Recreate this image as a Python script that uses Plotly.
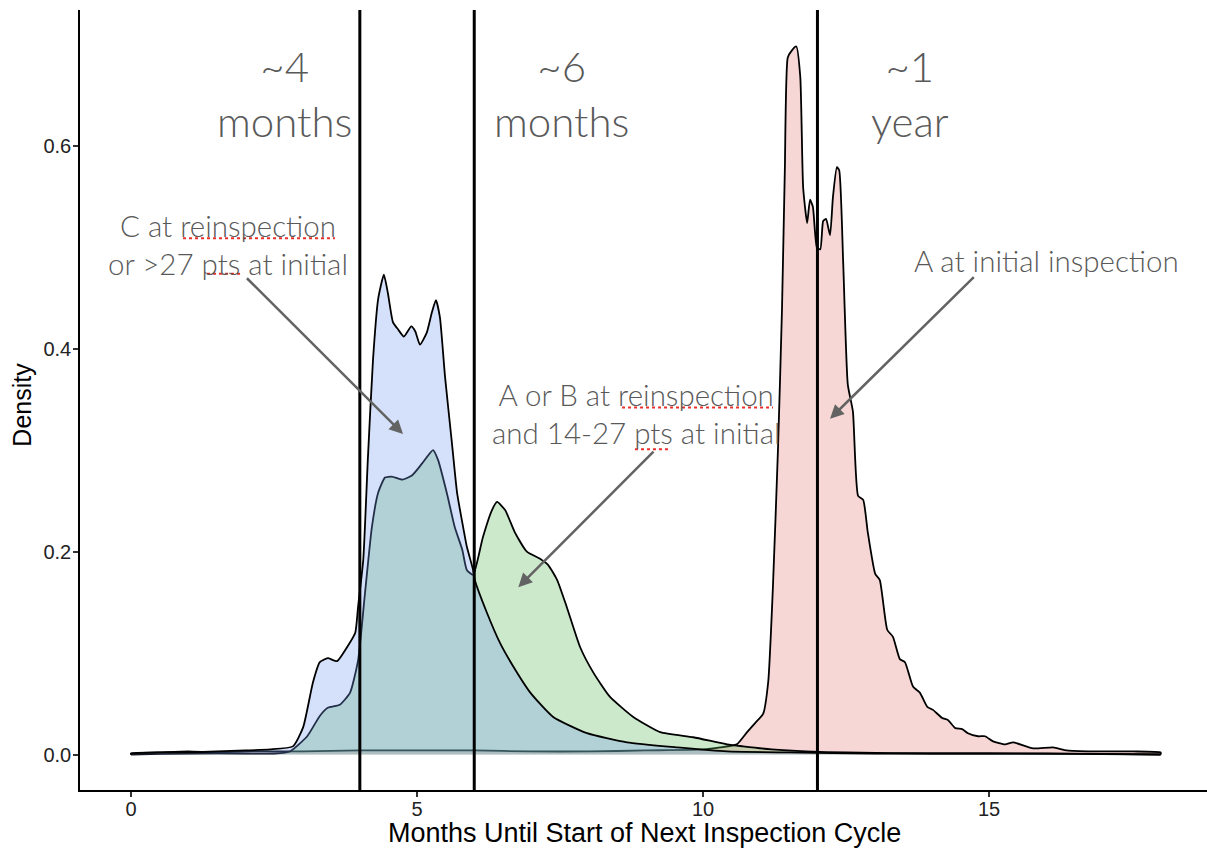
import plotly.graph_objects as go

# Density of months until the next inspection cycle, by grade group
months_a_initial = [0, 0.5, 1, 1.5, 2, 3, 4, 5, 6, 7, 8, 9, 10, 10.3, 10.59, 10.77, 10.91, 11.05,
                    11.14, 11.22, 11.31, 11.38, 11.43, 11.48, 11.55, 11.63, 11.70, 11.75, 11.82,
                    11.87, 11.92, 11.99, 12.05, 12.10, 12.15, 12.22, 12.27, 12.34, 12.38, 12.45,
                    12.53, 12.62, 12.71, 12.80, 12.88, 13.01, 13.09, 13.22, 13.32, 13.44, 13.53,
                    13.67, 13.79, 13.92, 14.02, 14.18, 14.28, 14.41, 14.53, 14.63, 14.81, 14.93,
                    15.07, 15.28, 15.42, 15.77, 16.12, 16.36, 16.82, 17.52, 18.0]
density_a_initial = [0.001, 0.002, 0.003, 0.002, 0.003, 0.003, 0.004, 0.004, 0.004, 0.003, 0.003,
                     0.004, 0.005, 0.007, 0.010, 0.022, 0.031, 0.040, 0.072, 0.163, 0.301, 0.439,
                     0.577, 0.687, 0.694, 0.698, 0.668, 0.559, 0.524, 0.547, 0.540, 0.500, 0.498,
                     0.526, 0.528, 0.512, 0.549, 0.579, 0.576, 0.485, 0.365, 0.338, 0.255, 0.251,
                     0.219, 0.178, 0.172, 0.123, 0.116, 0.094, 0.091, 0.067, 0.061, 0.047, 0.044,
                     0.036, 0.034, 0.026, 0.025, 0.021, 0.018, 0.018, 0.013, 0.010, 0.012, 0.006,
                     0.007, 0.004, 0.003, 0.003, 0.002]

months_ab_reinsp = [0, 1, 2, 2.5, 2.78, 3.08, 3.30, 3.44, 3.65, 3.83, 3.97, 4.09, 4.21, 4.32, 4.44,
                    4.56, 4.74, 4.91, 5.09, 5.28, 5.37, 5.52, 5.66, 5.79, 5.87, 5.98, 6.15, 6.31,
                    6.40, 6.54, 6.71, 6.92, 7.15, 7.29, 7.45, 7.62, 7.85, 8.08, 8.37, 8.78, 9.25,
                    9.83, 10.42, 10.70, 11.2, 11.8, 12.5, 14, 16, 18]
density_ab_reinsp = [0.0, 0.001, 0.001, 0.001, 0.003, 0.018, 0.038, 0.046, 0.049, 0.061, 0.093,
                     0.159, 0.224, 0.258, 0.273, 0.274, 0.271, 0.275, 0.287, 0.300, 0.290, 0.258,
                     0.224, 0.202, 0.182, 0.177, 0.214, 0.241, 0.249, 0.241, 0.219, 0.200, 0.193,
                     0.187, 0.172, 0.145, 0.106, 0.081, 0.057, 0.037, 0.022, 0.017, 0.010, 0.008,
                     0.005, 0.003, 0.002, 0.001, 0.001, 0.0]

months_c_reinsp = [0, 0.5, 1.0, 1.5, 2.0, 2.43, 2.83, 3.01, 3.18, 3.30, 3.44, 3.60, 3.79, 3.92,
                   3.97, 4.06, 4.14, 4.23, 4.32, 4.42, 4.49, 4.58, 4.67, 4.77, 4.90, 4.97, 5.05,
                   5.17, 5.26, 5.33, 5.40, 5.49, 5.61, 5.70, 5.79, 5.87, 5.98, 6.01, 6.22, 6.45,
                   6.68, 6.98, 7.38, 7.97, 8.67, 9.55, 10.42, 11.5, 13, 15, 18]
density_c_reinsp = [0.001, 0.002, 0.002, 0.003, 0.004, 0.005, 0.008, 0.027, 0.071, 0.091, 0.095,
                    0.092, 0.107, 0.120, 0.146, 0.192, 0.291, 0.389, 0.449, 0.473, 0.455, 0.426,
                    0.419, 0.412, 0.422, 0.417, 0.404, 0.416, 0.436, 0.448, 0.431, 0.372, 0.307,
                    0.258, 0.229, 0.205, 0.182, 0.172, 0.140, 0.110, 0.087, 0.061, 0.037, 0.021,
                    0.012, 0.007, 0.003, 0.002, 0.001, 0.001, 0.0]

cycle_cutoffs = [4, 6, 12]

x_ticks = [0, 5, 10, 15]
y_ticks = [0.0, 0.2, 0.4, 0.6]

groups = [
    (months_a_initial, density_a_initial, "rgba(225,122,115,0.3)"),
    (months_ab_reinsp, density_ab_reinsp, "rgba(85,182,85,0.3)"),
    (months_c_reinsp, density_c_reinsp, "rgba(115,155,238,0.3)"),
]

fig = go.Figure()
for xs, ys, fill in groups:
    # close each density along the baseline so the outline includes y = 0
    px = [xs[0]] + list(xs) + [xs[-1]]
    py = [0] + list(ys) + [0]
    fig.add_trace(go.Scatter(
        x=px, y=py, mode="lines", fill="toself", fillcolor=fill,
        line=dict(color="black", width=1.8, shape="spline", smoothing=0.5),
        hoverinfo="skip", showlegend=False,
    ))

shapes = []
for c in cycle_cutoffs:
    shapes.append(dict(type="line", xref="x", yref="paper", x0=c, x1=c, y0=0, y1=1,
                       line=dict(color="black", width=3), layer="above"))

# red dotted spell-check style underlines beneath a few words
underlines = [(0.909, 3.566, 0.509), (1.329, 1.906, 0.474),
              (8.584, 11.224, 0.342), (8.81, 9.39, 0.301)]
for x0, x1, yy in underlines:
    shapes.append(dict(type="line", xref="x", yref="y", x0=x0, x1=x1, y0=yy, y1=yy,
                       line=dict(color="#e8302a", width=2, dash="dot"), layer="above"))

label_font = dict(family="Lato", size=29.5, color="#595959", weight=300)
big_font = dict(family="Lato", size=42, color="#595959", weight=300)

annotations = [
    dict(x=2.69, y=0.652, text="~4<br>months", font=big_font),
    dict(x=7.53, y=0.652, text="~6<br>months", font=big_font),
    dict(x=13.62, y=0.652, text="~1<br>year", font=big_font),
    dict(x=1.70, y=0.503, text="C at reinspection<br>or >27 pts at initial", font=label_font),
    dict(x=8.83, y=0.336, text="A or B at reinspection<br>and 14-27 pts at initial", font=label_font),
    dict(x=16.01, y=0.487, text="A at initial inspection", font=label_font),
]
for a in annotations:
    a.update(xref="x", yref="y", showarrow=False, xanchor="center", yanchor="middle")

arrows = [((2.0, 0.471), (4.755, 0.316)),
          ((14.76, 0.472), (12.22, 0.331)),
          ((9.16, 0.300), (6.77, 0.165))]
for (tx, ty), (hx, hy) in arrows:
    annotations.append(dict(
        x=hx, y=hy, ax=tx, ay=ty, xref="x", yref="y", axref="x", ayref="y",
        text="", showarrow=True, arrowhead=2, arrowsize=1.1, arrowwidth=2.5,
        arrowcolor="#636363", standoff=0, startstandoff=0,
    ))

annotations.append(dict(
    xref="paper", yref="paper", x=0.501, y=-0.0545, text="Months Until Start of Next Inspection Cycle",
    showarrow=False, xanchor="center", yanchor="middle",
    font=dict(family="Liberation Sans", size=27, color="black")))
annotations.append(dict(
    xref="paper", yref="paper", x=-0.0515, y=0.494, text="Density", textangle=-90,
    showarrow=False, xanchor="center", yanchor="middle",
    font=dict(family="Liberation Sans", size=25, color="black")))

fig.update_layout(
    width=1207, height=848,
    margin=dict(l=80, r=0, t=10, b=57.5),
    paper_bgcolor="white", plot_bgcolor="white",
    shapes=shapes, annotations=annotations,
    xaxis=dict(range=[-0.892, 18.81], tickvals=x_ticks, ticktext=[str(v) for v in x_ticks],
               showgrid=False, zeroline=False, showline=True, linecolor="black", linewidth=1.5,
               ticks="outside", ticklen=5, tickwidth=1.5, tickcolor="#333333",
               ticklabelstandoff=-5,
               tickfont=dict(family="Liberation Sans", size=20, color="#222222")),
    yaxis=dict(range=[-0.035, 0.734], tickvals=y_ticks, ticktext=[f"{v:.1f}" for v in y_ticks],
               showgrid=False, zeroline=False, showline=True, linecolor="black", linewidth=1.5,
               ticks="outside", ticklen=5, tickwidth=1.5, tickcolor="#333333",
               ticklabelstandoff=-2,
               tickfont=dict(family="Liberation Sans", size=20, color="#222222")),
)

fig.write_html("out.html")
